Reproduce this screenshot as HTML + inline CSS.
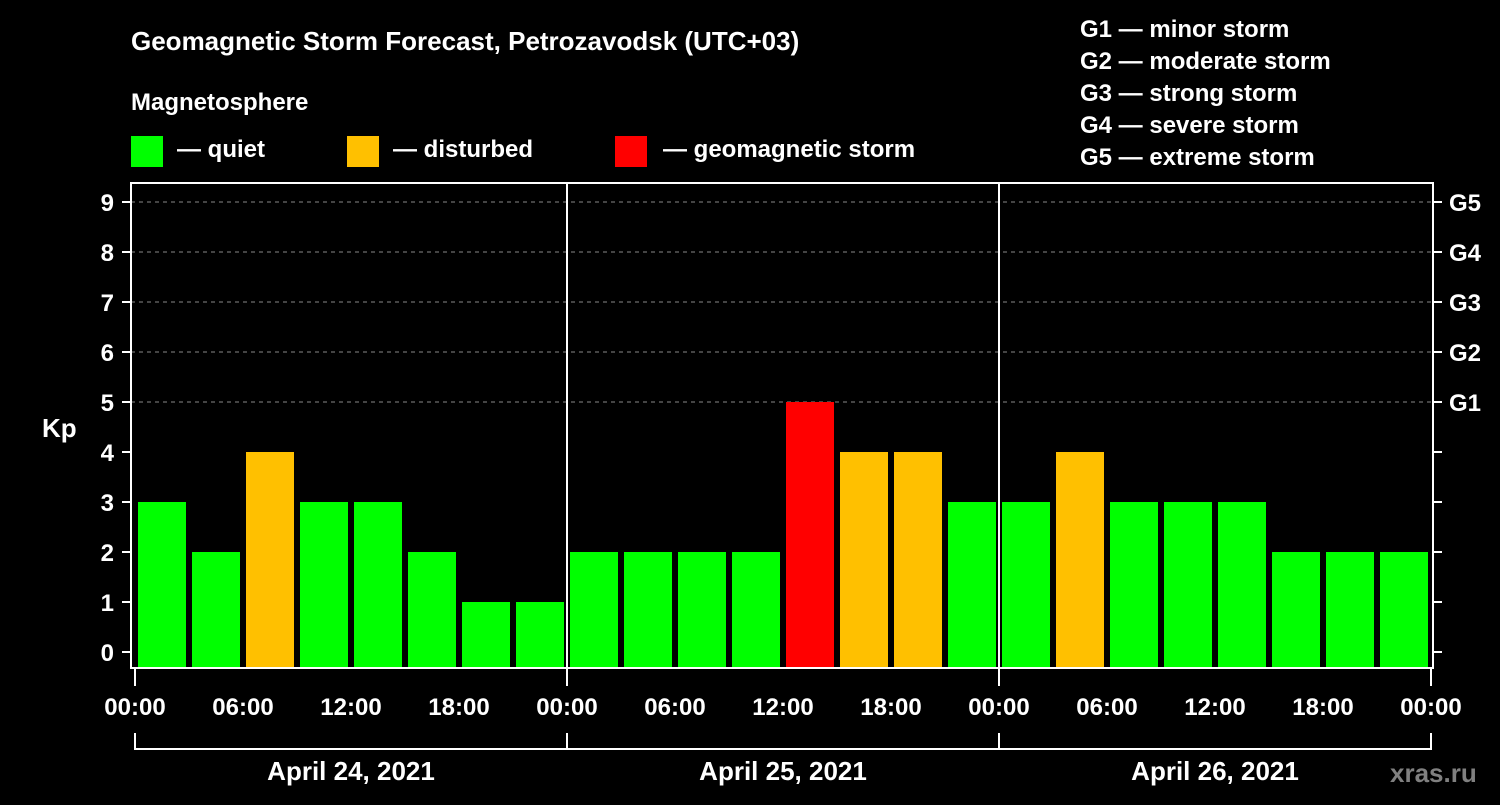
<!DOCTYPE html>
<html><head><meta charset="utf-8"><style>
body{margin:0;background:#000;width:1500px;height:800px;overflow:hidden;font-family:"Liberation Sans",sans-serif;}
svg text{font-family:"Liberation Sans",sans-serif;font-weight:bold;fill:#fff;}
</style></head><body>
<svg id="chart" width="1500" height="800" xmlns="http://www.w3.org/2000/svg">
<text x="131" y="50" font-size="26">Geomagnetic Storm Forecast, Petrozavodsk (UTC+03)</text>
<text x="131" y="110" font-size="24">Magnetosphere</text>
<g><rect x="131" y="136" width="32" height="31" fill="#00ff00"/><text x="177" y="157" font-size="24">— quiet</text></g>
<g><rect x="347" y="136" width="32" height="31" fill="#ffc000"/><text x="393" y="157" font-size="24">— disturbed</text></g>
<g><rect x="615" y="136" width="32" height="31" fill="#ff0000"/><text x="663" y="157" font-size="24">— geomagnetic storm</text></g>
<g font-size="24">
<text x="1080" y="37">G1 — minor storm</text>
<text x="1080" y="69">G2 — moderate storm</text>
<text x="1080" y="101">G3 — strong storm</text>
<text x="1080" y="133">G4 — severe storm</text>
<text x="1080" y="165">G5 — extreme storm</text>
</g>
<text x="42" y="437" font-size="26">Kp</text>
<text x="1390" y="782" font-size="26" style="fill:#808080">xras.ru</text>
<g id="grid"></g><g id="bars"></g><g id="axes"></g>
</svg>
<script>
const kpValues = [3,2,4,3,3,2,1,1, 2,2,2,2,5,4,4,3, 3,4,3,3,3,2,2,2];
const dayLabels = ["April 24, 2021","April 25, 2021","April 26, 2021"];
const hourLabels = ["00:00","06:00","12:00","18:00"];
const yTicks = [0,1,2,3,4,5,6,7,8,9];
const gLabels = ["G1","G2","G3","G4","G5"];
const NS="http://www.w3.org/2000/svg";
const X0=135, DAYW=432, L=131, R=1433, T=183, B=668;
const y = v => 652 - v*50;
const x = h => X0 + h*DAYW/24;
function mk(p,tag,a){const e=document.createElementNS(NS,tag);for(const k in a)e.setAttribute(k,a[k]);document.getElementById(p).appendChild(e);return e;}
yTicks.forEach(v=>{
  if(v>=5){const g=mk('grid','line',{x1:L,x2:R,y1:y(v),y2:y(v),stroke:'#888','stroke-dasharray':'4 4'});
  
  }
  const t=mk('axes','line',{x1:122,x2:L,y1:y(v),y2:y(v),stroke:'#fff','stroke-width':2});
  
  
  const t2=mk('axes','line',{x1:R,x2:1442,y1:y(v),y2:y(v),stroke:'#fff','stroke-width':2});
  
  
  const lb=mk('axes','text',{x:114,y:y(v)+9,'font-size':24,'text-anchor':'end'});lb.textContent=v;
  
  
});
gLabels.forEach((g,i)=>{const lb=mk('axes','text',{x:1449,y:y(5+i)+9,'font-size':24});lb.textContent=g;
  
  });
kpValues.forEach((v,i)=>{
  const c=v>=5?'#ff0000':(v>=4?'#ffc000':'#00ff00');
  const b=mk('bars','rect',{x:x(i*3)+3,y:y(v),width:48,height:B-y(v),fill:c});
  
  
});
const fr=mk('axes','rect',{x:L,y:T,width:R-L,height:B-T,fill:'none',stroke:'#fff','stroke-width':2});


for(let d=0;d<=3;d++){
  const xx=X0+d*DAYW;
  if(d>0&&d<3){const s=mk('axes','line',{x1:xx,x2:xx,y1:T,y2:B,stroke:'#fff','stroke-width':2});
  
  }
  const bt=mk('axes','line',{x1:xx,x2:xx,y1:B,y2:686,stroke:'#fff','stroke-width':2});
  
  
  const br=mk('axes','line',{x1:xx,x2:xx,y1:733,y2:750,stroke:'#fff','stroke-width':2});
  
  
}
const bl=mk('axes','line',{x1:X0,x2:X0+3*DAYW,y1:749,y2:749,stroke:'#fff','stroke-width':2});


for(let d=0;d<3;d++){
  hourLabels.forEach((h,j)=>{const t=mk('axes','text',{x:x(d*24+j*6),y:715,'font-size':24,'text-anchor':'middle'});t.textContent=h;
    
    });
  const dl=mk('axes','text',{x:X0+d*DAYW+DAYW/2,y:780,'font-size':26,'text-anchor':'middle'});dl.textContent=dayLabels[d];
  
  
}
const lt=mk('axes','text',{x:x(72),y:715,'font-size':24,'text-anchor':'middle'});lt.textContent="00:00";


</script>
</body></html>
